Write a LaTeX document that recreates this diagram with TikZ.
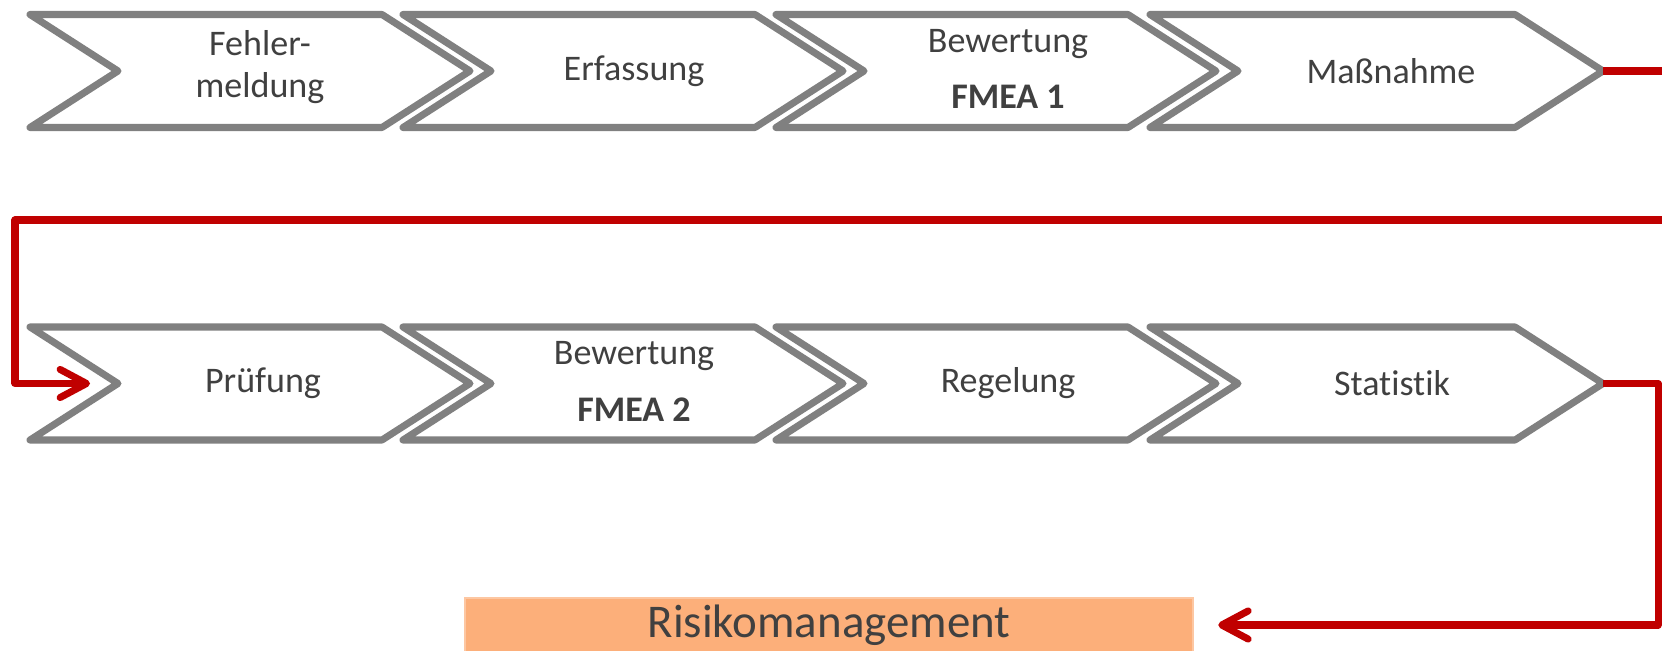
\documentclass[tikz,border=0pt]{standalone}
\usepackage{fontspec}
\setmainfont{Carlito}[Ligatures=NoCommon]
\usetikzlibrary{arrows.meta, calc, positioning}
\definecolor{accentred}{RGB}{192,0,0}
\definecolor{chevgray}{RGB}{128,128,128}
\definecolor{textgray}{RGB}{64,64,64}
\definecolor{accentorange}{RGB}{252,175,122}

\tikzset{
    chevshape/.style={draw=chevgray, line width=4pt, line join=round, fill=white},
    steplabel/.style={text=textgray, align=center, inner sep=0pt, font=\fontsize{20.5}{24}\selectfont},
    redarrow/.style={draw=accentred, line width=4pt, line join=round,
        -{Straight Barb[length=15pt, width=16pt, round]}},
}
% chevron: left x, corner x, middle y (pixel units)
\newcommand{\chevron}[3]{%
    \draw[chevshape] (#1,#3-56.5) -- (#2,#3-56.5) -- (#2+88,#3) -- (#2,#3+56.5)
        -- (#1,#3+56.5) -- (#1+88,#3) -- cycle;}

\begin{document}
\begin{tikzpicture}[x=0.02cm, y=-0.02cm]
    \path[use as bounding box, clip] (0,0) rectangle (1662,651);

    % Upper row
    \chevron{30}{382}{71}
    \chevron{403}{755}{71}
    \chevron{776}{1128}{71}
    \chevron{1150}{1515}{71}
    \node[steplabel] (fehler) at (260,67.5) {Fehler-\\meldung};
    \node[steplabel] (erfassung) at (634,71) {Erfassung};
    \node[steplabel, font=\fontsize{20.5}{32}\selectfont] (bewertung1) at (1008,69) {Bewertung\\\textbf{FMEA 1}};
    \node[steplabel] (massnahme) at (1391,71) {Maßnahme};
    \coordinate (massnahme-tip) at (1603,71);

    % Lower row
    \chevron{30}{382}{383.5}
    \chevron{403}{755}{383.5}
    \chevron{776}{1128}{383.5}
    \chevron{1150}{1515}{383.5}
    \node[steplabel] (pruefung) at (263,383.5) {Prüfung};
    \node[steplabel, font=\fontsize{20.5}{32}\selectfont] (bewertung2) at (634,381.5) {Bewertung\\\textbf{FMEA 2}};
    \node[steplabel] (regelung) at (1008,383.5) {Regelung};
    \node[steplabel] (statistik) at (1392,383.5) {Statistik};
    \coordinate (statistik-tip) at (1603,383.5);
    \coordinate (pruefung-in) at (90,383.5);

    % Risk box
    \node[fill=accentorange, draw=accentorange!70, line width=1.5pt, inner sep=0pt,
          minimum width=14.56cm, minimum height=1.08cm, text=textgray,
          font=\fontsize{26.7}{30}\selectfont] (risiko) at (829,625) {Risikomanagement};

    % Feedback lines
    \draw[redarrow] (massnahme-tip) -- (1700,71) |- (15,220) |- (pruefung-in);
    \draw[redarrow] (statistik-tip) -- (1658,383.5) |- ([xshift=0.48cm]risiko.east);
\end{tikzpicture}
\end{document}
